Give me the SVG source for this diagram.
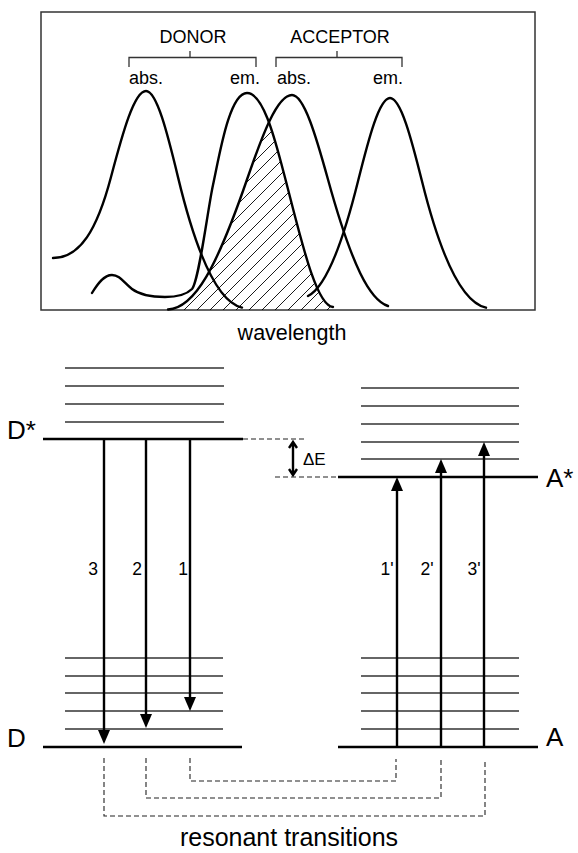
<svg xmlns="http://www.w3.org/2000/svg" width="578" height="853" viewBox="0 0 578 853">
<style>
text{font-family:"Liberation Sans",Arial,sans-serif;fill:#000}
.curve{fill:none;stroke:#000;stroke-width:2.4;stroke-linecap:round}
.br{fill:none;stroke:#333;stroke-width:1.3}
.lvl{stroke:#000;stroke-width:2.6}
.sub{stroke:#333;stroke-width:1.5}
.arr{stroke:#000;stroke-width:2.4;fill:none}
.dash{stroke:#222;stroke-width:1.1;fill:none;stroke-dasharray:5,3}
.lab{font-size:18px}
.num{font-size:17.5px}
</style>
<defs>
<pattern id="hatch" patternUnits="userSpaceOnUse" width="13" height="13">
<path d="M-1,1 L1,-1 M0,13 L13,0 M12,14 L14,12" stroke="#000" stroke-width="0.9"/>
</pattern>
<clipPath id="underAccAbs">
<path d="M168,309.5 C195,308 217,266.6 247,179.5 C262,136.1 277,95 292,95 C304,95 316,136.1 328,179.5 C352,266.6 370,300 388,306 L388,310 L168,310 Z"/>
</clipPath>
<marker id="ah" markerWidth="14" markerHeight="12" refX="9" refY="6" orient="auto" markerUnits="userSpaceOnUse">
<path d="M0,0 L14,6 L0,12 Z" fill="#000"/>
</marker>
</defs>
<rect width="578" height="853" fill="#fff"/>

<g id="spectrum">
<rect x="41" y="12" width="494" height="298" fill="none" stroke="#333" stroke-width="1.5"/>
<g clip-path="url(#underAccAbs)">
<path d="M92,310 L92,293 C98,283 104,275 112,275 C120,275 124,283 132,289 C140,295 150,297 165,297 C178,297 186,295 192,289 C199,281 208,207.5 213,185 C219,158 229,93 247,93 C264,93 276,144 283,170 C299,230 315,306 333,307 L333,310 Z" fill="url(#hatch)"/>
</g>
<path id="donor-abs" class="curve" d="M53,258 C80,258 97,230 111,177 C122.7,132.8 134.3,91 146,91 C156.7,91 167.3,132.8 178,177.1 C199.3,265.8 220.7,302.8 242,307.6"/>
<path id="donor-em" class="curve" d="M92,293 C98,283 104,275 112,275 C120,275 124,283 132,289 C140,295 150,297 165,297 C178,297 186,295 192,289 C199,281 208,207.5 213,185 C219,158 229,93 247,93 C264,93 276,144 283,170 C299,230 315,306 333,307"/>
<path id="acceptor-abs" class="curve" d="M168,309.5 C195,308 217,266.6 247,179.5 C262,136.1 277,95 292,95 C304,95 316,136.1 328,179.5 C352,266.6 370,300 388,306"/>
<path id="acceptor-em" class="curve" d="M308,296 C320,290 336.7,267.1 358,181.3 C368.7,138.5 379.3,98 390,98 C400.7,98 411.3,138.5 422,181.3 C443.3,267.2 464.7,303 486,307.7"/>
</g>

<g id="spectrum-labels">
<text class="lab" x="193" y="43" text-anchor="middle">DONOR</text>
<path class="br" d="M129,67 V57.5 H256 V67 M190,51 V57.5"/>
<text class="lab" x="340" y="43" text-anchor="middle">ACCEPTOR</text>
<path class="br" d="M276,67 V57.5 H402 V67 M337,51 V57.5"/>
<text class="lab" x="129" y="84">abs.</text>
<text class="lab" x="230" y="84">em.</text>
<text class="lab" x="277" y="84">abs.</text>
<text class="lab" x="373" y="84">em.</text>
<text x="292" y="340" font-size="21.5" text-anchor="middle">wavelength</text>
</g>

<g id="donor">
<line class="sub" x1="65" y1="368" x2="224" y2="368"/>
<line class="sub" x1="65" y1="386" x2="224" y2="386"/>
<line class="sub" x1="65" y1="404" x2="224" y2="404"/>
<line class="sub" x1="65" y1="422" x2="224" y2="422"/>
<line class="lvl" x1="43" y1="439" x2="243" y2="439"/>
<text x="7" y="439" font-size="26">D*</text>
<line class="sub" x1="65" y1="658" x2="223" y2="658"/>
<line class="sub" x1="65" y1="676" x2="223" y2="676"/>
<line class="sub" x1="65" y1="693" x2="223" y2="693"/>
<line class="sub" x1="65" y1="711" x2="223" y2="711"/>
<line class="sub" x1="65" y1="729" x2="223" y2="729"/>
<line class="lvl" x1="43" y1="747" x2="242" y2="747"/>
<text x="7" y="747" font-size="26">D</text>
</g>

<g id="acceptor">
<line class="sub" x1="361" y1="388" x2="519" y2="388"/>
<line class="sub" x1="361" y1="406" x2="519" y2="406"/>
<line class="sub" x1="361" y1="424" x2="519" y2="424"/>
<line class="sub" x1="361" y1="442" x2="519" y2="442"/>
<line class="sub" x1="361" y1="459" x2="519" y2="459"/>
<line class="lvl" x1="338" y1="477" x2="538" y2="477"/>
<text x="546" y="487" font-size="26">A*</text>
<line class="sub" x1="361" y1="658" x2="519" y2="658"/>
<line class="sub" x1="361" y1="676" x2="519" y2="676"/>
<line class="sub" x1="361" y1="693" x2="519" y2="693"/>
<line class="sub" x1="361" y1="711" x2="519" y2="711"/>
<line class="sub" x1="361" y1="729" x2="519" y2="729"/>
<line class="lvl" x1="338" y1="747" x2="538" y2="747"/>
<text x="546" y="746" font-size="26">A</text>
</g>

<g id="connectors">
<line class="arr" x1="104" y1="439" x2="104" y2="739" marker-end="url(#ah)"/>
<line class="arr" x1="146" y1="439" x2="146" y2="723" marker-end="url(#ah)"/>
<line class="arr" x1="190" y1="439" x2="190" y2="706" marker-end="url(#ah)"/>
<line class="arr" x1="397" y1="747" x2="397" y2="482" marker-end="url(#ah)"/>
<line class="arr" x1="441" y1="747" x2="441" y2="464" marker-end="url(#ah)"/>
<line class="arr" x1="484" y1="747" x2="484" y2="447" marker-end="url(#ah)"/>
<path class="dash" d="M243,439 H305 M275,477 H338"/>
<path class="arr" d="M293,442 V475 M289,448 L293,442 L297,448 M289,469 L293,475 L297,469"/>
<path class="dash" d="M190,758 V781 H396 V759 M146,758 V798 H441 V759 M104,758 V816 H485 V761"/>
</g>

<g id="connector-labels">
<text class="num" x="93" y="575" text-anchor="middle">3</text>
<text class="num" x="137" y="575" text-anchor="middle">2</text>
<text class="num" x="183" y="575" text-anchor="middle">1</text>
<text class="num" x="387" y="575" text-anchor="middle">1'</text>
<text class="num" x="427" y="575" text-anchor="middle">2'</text>
<text class="num" x="474" y="575" text-anchor="middle">3'</text>
<text x="303" y="465" font-size="17">ΔE</text>
<text x="289" y="846" font-size="25" text-anchor="middle">resonant transitions</text>
</g>
</svg>
